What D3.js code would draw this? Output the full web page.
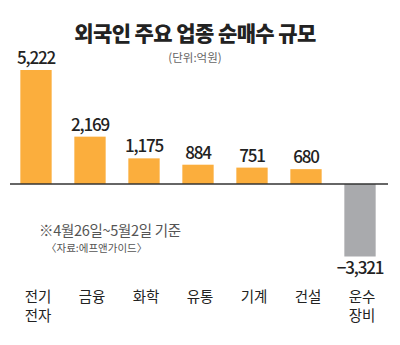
<!DOCTYPE html>
<html><head><meta charset="utf-8">
<script src="https://cdn.jsdelivr.net/npm/d3@7"></script>
<style>
body{margin:0;background:#fff;}
text{font-family:"Noto Sans CJK KR","Noto Sans",sans-serif;}
</style></head>
<body><svg id="c" width="400" height="345"></svg>
<script>
// 업종별 외국인 순매수 (억원)
const categories = [["전기","전자"],["금융"],["화학"],["유통"],["기계"],["건설"],["운수","장비"]];
const values = [5222, 2169, 1175, 884, 751, 680, -3321];
const valueLabels = ["5,222","2,169","1,175","884","751","680","−3,321"];

const svg = d3.select("#c");

const x = d3.scaleBand().domain(d3.range(values.length)).range([9, 387]).paddingInner(0.42).paddingOuter(0.21);
const y = d3.scaleLinear().domain([-3321, 5222]).range([256.5, 70]);

// 제목
svg.append("text").attr("x", 195).attr("y", 41).attr("text-anchor","middle")
  .attr("font-size", 21).attr("font-weight", 900).attr("fill","#222").attr("letter-spacing",-0.6)
  .text("외국인 주요 업종 순매수 규모");
svg.append("text").attr("x", 195).attr("y", 62).attr("text-anchor","middle")
  .attr("font-size", 11.5).attr("fill","#666")
  .text("(단위:억원)");

// 막대
svg.selectAll("rect.bar").data(values).join("rect")
  .attr("class","bar")
  .attr("x", (d,i)=>x(i))
  .attr("width", x.bandwidth())
  .attr("y", d=>Math.min(y(d), y(0)))
  .attr("height", d=>Math.abs(y(d)-y(0)))
  .attr("fill", d=> d>=0 ? "#FBAE3D" : "#A9AAAD");

// 기준선
svg.append("line").attr("x1", 10).attr("x2", 388).attr("y1", y(0)).attr("y2", y(0))
  .attr("stroke","#333").attr("stroke-width",1.3);

// 값 레이블
svg.selectAll("text.val").data(values).join("text")
  .attr("class","val")
  .attr("x", (d,i)=>x(i)+x.bandwidth()/2)
  .attr("y", d=> d>=0 ? y(d)-6 : y(d)+17)
  .attr("text-anchor","middle")
  .attr("font-size", 17).attr("font-weight", 500).attr("letter-spacing", -1.2).attr("fill","#222")
  .text((d,i)=>valueLabels[i]);

// 업종 레이블
const cat = svg.selectAll("text.cat").data(categories).join("text")
  .attr("class","cat")
  .attr("text-anchor","middle")
  .attr("font-size", 14.5).attr("fill","#222")
  .attr("transform",(d,i)=>`translate(${x(i)+x.bandwidth()/2+2},0)`);
cat.selectAll("tspan").data(d=>d).join("tspan")
  .attr("x",0).attr("y",(d,j)=>302+j*19).text(d=>d);

// 주석
svg.append("text").attr("x", 39).attr("y", 236).attr("font-size", 14.5).attr("fill","#555")
  .attr("letter-spacing", -0.3)
  .text("※4월26일~5월2일 기준");
svg.append("text").attr("x", 46).attr("y", 252).attr("font-size", 10.5).attr("fill","#555")
  .text("〈자료:에프앤가이드〉");
</script></body></html>
